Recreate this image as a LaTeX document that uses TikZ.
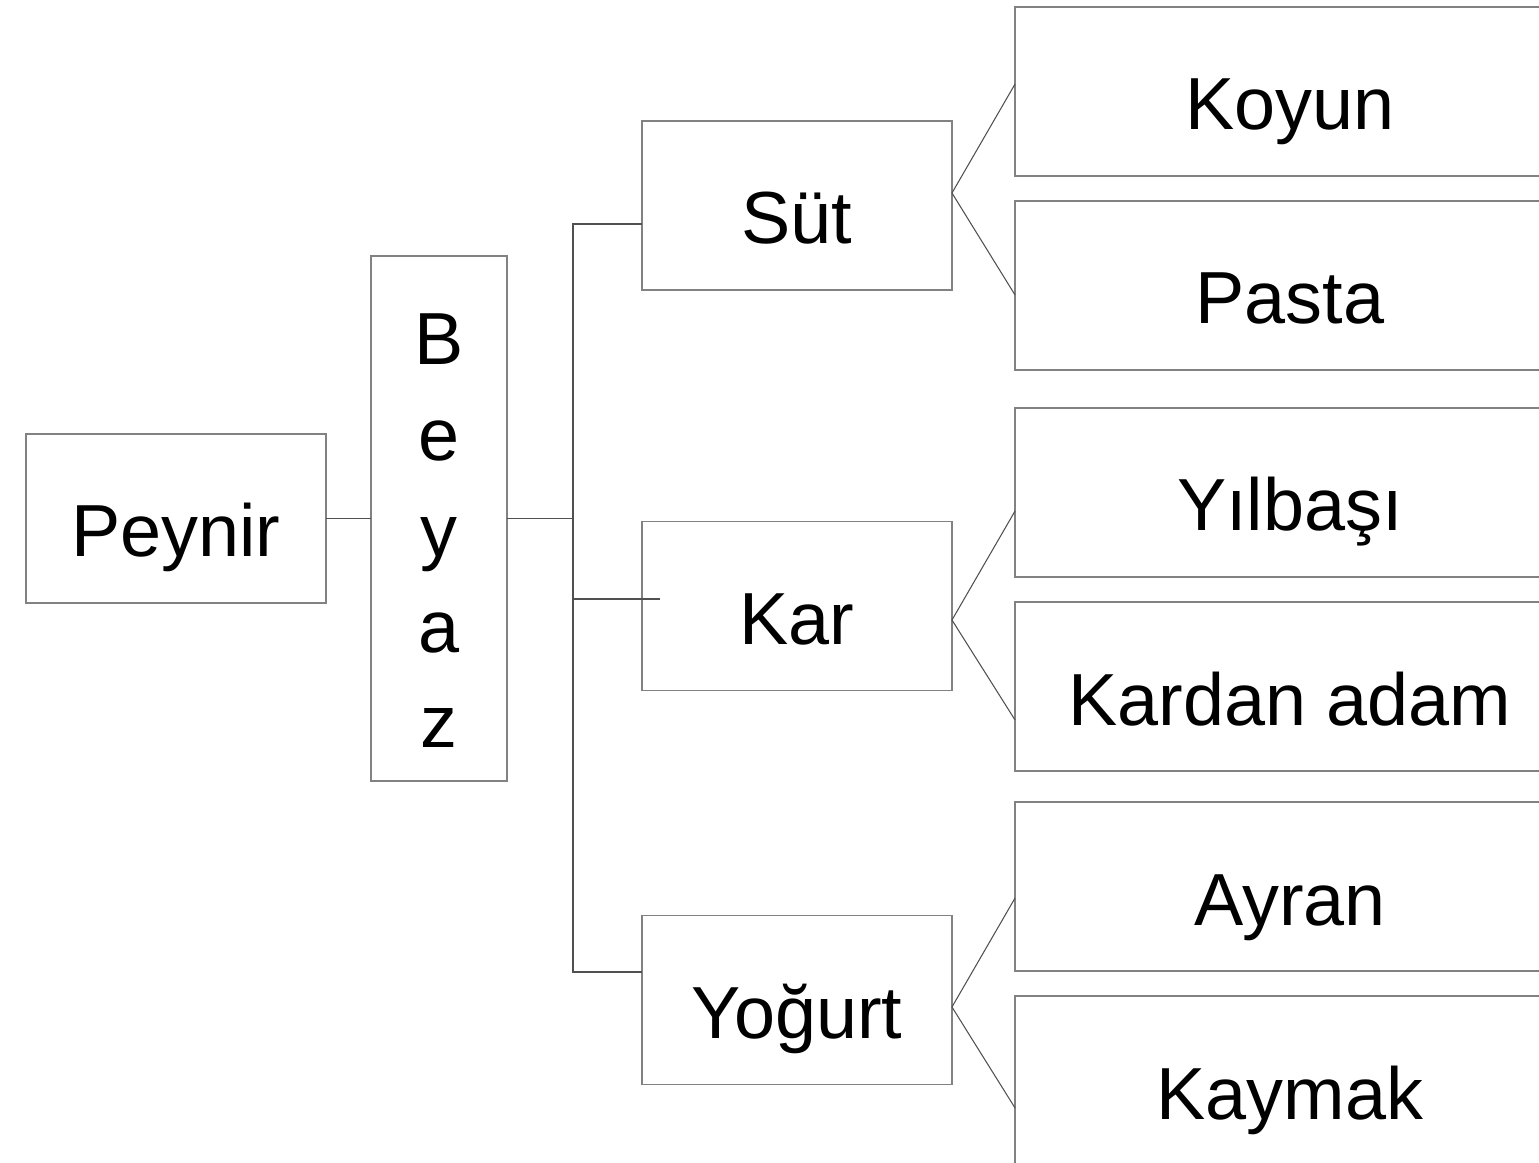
\documentclass[tikz,border=0pt]{standalone}
\usepackage{fontspec}
\setmainfont{Liberation Sans}
\definecolor{boxgray}{RGB}{130, 130, 130}
\definecolor{linegray}{RGB}{80, 80, 80}
\tikzset{
  wordbox/.style={draw=boxgray, line width=0.8pt, rectangle, inner sep=0pt, outer sep=0pt,
                  minimum height=3.38cm, text height=1.54cm, text depth=0pt,
                  font=\fontsize{42}{54.5}\selectfont},
  link/.style={draw=linegray, line width=0.6pt}
}
\begin{document}
\begin{tikzpicture}[x=0.02cm, y=-0.02cm]
            \useasboundingbox (0,0) rectangle (1539,1163);
            \node[wordbox, minimum width=6cm]                  (peynir)  at ( 176.0, 518.5) {Peynir};
            \node[wordbox, minimum width=2.72cm, minimum height=10.5cm,
                  align=center, text height=9.18cm]            (beyaz)   at ( 439.0, 518.5) {B\\e\\y\\a\\z};
            \node[wordbox, minimum width=6.2cm]                (sut)     at ( 797.0, 205.5) {Süt};
            \node[wordbox, minimum width=6.2cm]                (kar)     at ( 797.0, 606.0) {Kar};
            \node[wordbox, minimum width=6.2cm]                (yogurt)  at ( 797.0,1000.0) {Yoğurt};
            \node[wordbox, minimum width=11cm]                 (koyun)   at (1290.0,  91.5) {Koyun};
            \node[wordbox, minimum width=11cm]                 (pasta)   at (1290.0, 285.5) {Pasta};
            \node[wordbox, minimum width=11cm]                 (yilbasi) at (1290.0, 492.5) {Yılbaşı};
            \node[wordbox, minimum width=11cm]                 (kardan)  at (1290.0, 686.5) {Kardan adam};
            \node[wordbox, minimum width=11cm]                 (ayran)   at (1290.0, 886.5) {Ayran};
            \node[wordbox, minimum width=11cm]                 (kaymak)  at (1290.0,1080.5) {Kaymak};
            % bus between Beyaz and the middle column
            \coordinate (bus)   at (573, 518.5);
            \coordinate (sutin) at ([yshift=-0.37cm]sut.west);
            \coordinate (karin) at ([shift={(0.36cm,0.14cm)}]kar.west);
            \coordinate (yogin) at ([yshift=0.56cm]yogurt.west);
            \draw[link] (peynir) -- (beyaz);
            \draw[link] (beyaz.east) -- (bus);
            \draw[link] (sutin) -| (bus) |- (yogin);
            \draw[link] (karin -| bus) -- (karin);
            % fans to the right column
            \draw[link] ([yshift=0.15cm]koyun.west)   -- ([yshift=0.25cm]sut.east)     -- ([yshift=-0.19cm]pasta.west);
            \draw[link] ([yshift=-0.37cm]yilbasi.west) -- ([yshift=-0.28cm]kar.east)    -- ([yshift=-0.67cm]kardan.west);
            \draw[link] ([yshift=-0.23cm]ayran.west)  -- ([yshift=-0.14cm]yogurt.east) -- ([yshift=-0.55cm]kaymak.west);
\end{tikzpicture}
\end{document}
